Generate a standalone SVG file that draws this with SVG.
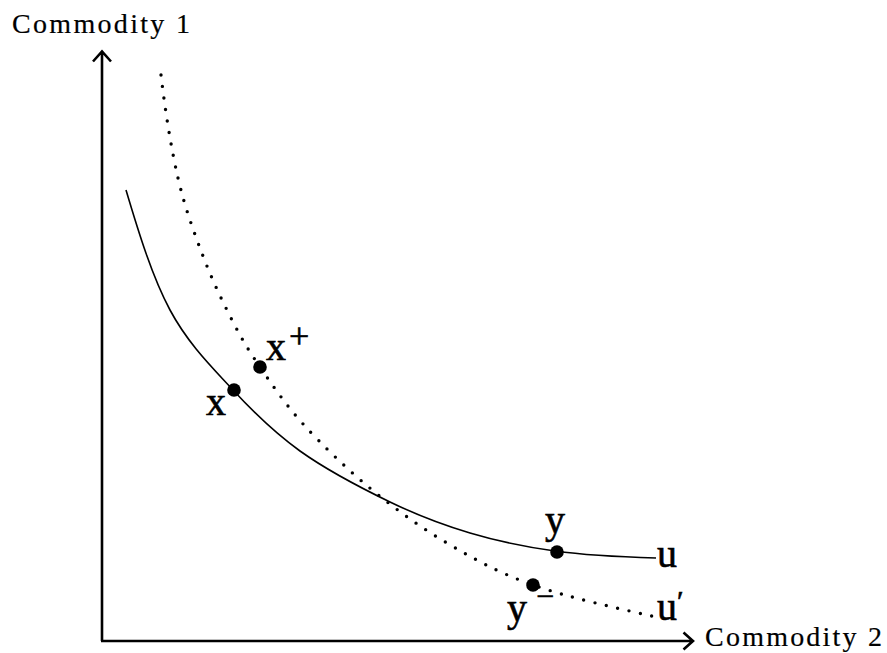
<svg xmlns="http://www.w3.org/2000/svg" width="887" height="653" viewBox="0 0 887 653">
<style>
.axis{fill:none;stroke:#000;stroke-width:2.6}
.curve{fill:none;stroke:#000;stroke-width:1.6}
.dotted{fill:none;stroke:#000;stroke-width:3.4;stroke-linecap:round;stroke-dasharray:0 11.6}
.lbl{font-family:"Liberation Serif","DejaVu Serif",serif;fill:#000;stroke:#000;stroke-width:0.6}
.ax{font-family:"Liberation Serif","DejaVu Serif",serif;font-size:28px;fill:#000;stroke:#000;stroke-width:0.2}
.pt{fill:#000}
</style>
<rect width="887" height="653" fill="#fff"/>
<g id="axes">
<path class="axis" d="M102,641 V52 M93,61.5 L102,51.5 L111,61.5"/>
<path class="axis" d="M101,641 H692 M683.5,632.5 L693,641 L683.5,649.5"/>
<text class="ax" x="12" y="33" textLength="178" lengthAdjust="spacing">Commodity 1</text>
<text class="ax" x="705" y="646" textLength="177" lengthAdjust="spacing">Commodity 2</text>
</g>
<g id="connectors">
<path id="u" class="curve" d="M126,190 C138.7,232.7 152.2,276.7 170,310 C187.8,343.3 211.3,366.5 233,390 C254.7,413.5 273.8,432.3 300,451 C326.2,469.7 361.7,488.3 390,502 C418.3,515.7 442.5,524.8 470,533 C497.5,541.2 524.7,546.8 555,551 C585.3,555.2 622,557 656,558"/>
<path id="u-prime" class="dotted" d="M161,75 C165,109.3 171,147.8 178,178 C185,208.2 194,232.3 203,256 C212,279.7 222.5,301.5 232,320 C241.5,338.5 248,349.5 260,367 C272,384.5 285.5,404.7 304,425 C322.5,445.3 347.2,469.3 371,489 C394.8,508.7 420,527 447,543 C474,559 498.2,572.7 533,585 C567.8,597.3 615,607.7 656,617"/>
</g>
<g id="node-x">
<circle class="pt" cx="234" cy="390" r="6.8"/>
<text class="lbl" x="206" y="415" font-size="40">x</text>
</g>
<g id="node-x-plus">
<circle class="pt" cx="260" cy="367" r="6.8"/>
<text class="lbl" x="266" y="360" font-size="40">x</text>
<text class="lbl" x="289" y="348" font-size="36" stroke-width="0">+</text>
</g>
<g id="node-y">
<circle class="pt" cx="557" cy="552" r="6.8"/>
<text class="lbl" x="545" y="533" font-size="40">y</text>
</g>
<g id="node-y-minus">
<circle class="pt" cx="533" cy="585" r="6.8"/>
<text class="lbl" x="507" y="621" font-size="40">y</text>
<text class="lbl" x="536" y="607" font-size="32" stroke-width="0">−</text>
</g>
<g id="label-u">
<text class="lbl" x="657" y="567" font-size="40">u</text>
</g>
<g id="label-u-prime">
<text class="lbl" x="657" y="620" font-size="40">u</text>
<text class="lbl" x="677" y="611" font-size="30" stroke-width="0.3">′</text>
</g>
</svg>
